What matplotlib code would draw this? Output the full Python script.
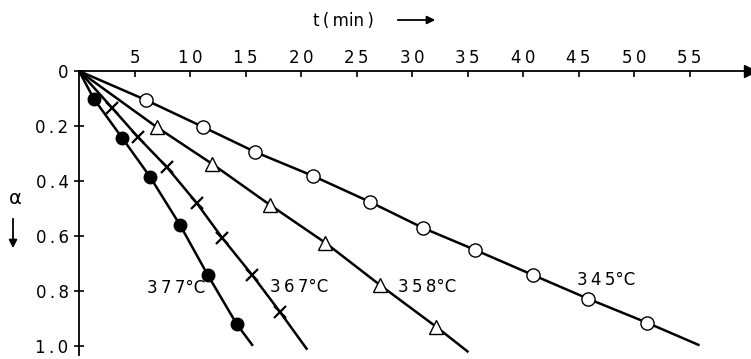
import matplotlib
matplotlib.use("Agg")
import matplotlib.pyplot as plt
from matplotlib.patches import FancyArrowPatch

# conversion alpha vs time
t_345 = [6.0, 11.2, 15.9, 21.1, 26.2, 31.0, 35.7, 40.9, 45.9, 51.2]
a_345 = [0.105, 0.204, 0.295, 0.382, 0.476, 0.571, 0.651, 0.742, 0.829, 0.916]
t_358 = [7.0, 12.0, 17.2, 22.2, 27.1, 32.2]
a_358 = [0.204, 0.338, 0.487, 0.625, 0.778, 0.931]
t_367 = [3.0, 5.3, 7.9, 10.6, 12.9, 15.6, 18.1]
a_367 = [0.135, 0.240, 0.349, 0.480, 0.607, 0.742, 0.876]
t_377 = [1.35, 3.9, 6.4, 9.1, 11.6, 14.2]
a_377 = [0.102, 0.244, 0.385, 0.560, 0.742, 0.920]

# where each drawn line stops
t_end = [55.8, 35.0, 20.5, 15.6]
a_end = [0.996, 1.02, 1.01, 0.996]

labels = ["345°C", "358°C", "367°C", "377°C"]
label_pos = [(44.9, 0.76), (28.7, 0.785), (17.2, 0.785), (6.1, 0.79)]

xticks = [5, 10, 15, 20, 25, 30, 35, 40, 45, 50, 55]
yticks = [0, 0.2, 0.4, 0.6, 0.8, 1.0]
ytick_labels = ["0", "0.2", "0.4", "0.6", "0.8", "1.0"]

TS = "\u2009"  # thin space, the old lettering is widely spaced


def spaced(s):
    return TS.join(s)


W, H = 751, 359
fig = plt.figure(figsize=(W / 100, H / 100), dpi=100)
ax = fig.add_axes([79 / W, 1 - 355 / H, (750 - 79) / W, (355 - 71) / H])
ax.set_xlim(0, 60.45)
ax.set_ylim(1.033, 0)

series = [
    (t_345, a_345, dict(marker="o", mfc="white", ms=9.5)),
    (t_358, a_358, dict(marker="^", mfc="white", ms=9.5)),
    (t_367, a_367, dict(marker="x", mfc="none", ms=9, mew=1.6)),
    (t_377, a_377, dict(marker="o", mfc="black", ms=9)),
]
for i, (t, a, style) in enumerate(series):
    # line from origin, through the points, to its end
    ax.plot([0] + t + [t_end[i]], [0] + a + [a_end[i]], color="black", lw=1.8, zorder=2)
    ax.plot(t, a, linestyle="none", color="black", mec="black", zorder=3, **style)
    lab = TS.join(labels[i][:3]) + labels[i][3:]
    ax.text(label_pos[i][0], label_pos[i][1], lab, fontsize=12, ha="left", va="center")

# axes: only top and left
ax.spines["bottom"].set_visible(False)
ax.spines["right"].set_visible(False)
ax.spines["top"].set_linewidth(1.3)
ax.spines["left"].set_linewidth(1.3)
ax.xaxis.tick_top()
ax.set_xticks(xticks)
ax.set_xticklabels([spaced(str(v)) for v in xticks])
ax.set_yticks(yticks)
ax.set_yticklabels([spaced(s) for s in ytick_labels])
ax.tick_params(axis="x", direction="in", length=4, width=1.2, pad=3, labelsize=12)
ax.tick_params(axis="y", direction="inout", length=7, width=1.2, pad=4, labelsize=12)

# arrow head at the end of the time axis
ax.plot([1], [1], marker=">", color="black", ms=9, transform=ax.transAxes, clip_on=False)

# axis titles with arrows
fig.text(343 / W, 1 - 21 / H, "t" + TS + "(" + TS + "min" + TS + ")", fontsize=12,
         ha="center", va="center")
fig.patches.append(FancyArrowPatch(
    (395 / W, 1 - 20 / H), (438 / W, 1 - 20 / H), transform=fig.transFigure,
    arrowstyle="-|>", mutation_scale=12, color="black", lw=1.3))
fig.text(15 / W, 1 - 198 / H, "α", fontsize=14, ha="center", va="center")
fig.patches.append(FancyArrowPatch(
    (13 / W, 1 - 216 / H), (13 / W, 1 - 251 / H), transform=fig.transFigure,
    arrowstyle="-|>", mutation_scale=12, color="black", lw=1.3))

fig.savefig("out.png", dpi=100)
